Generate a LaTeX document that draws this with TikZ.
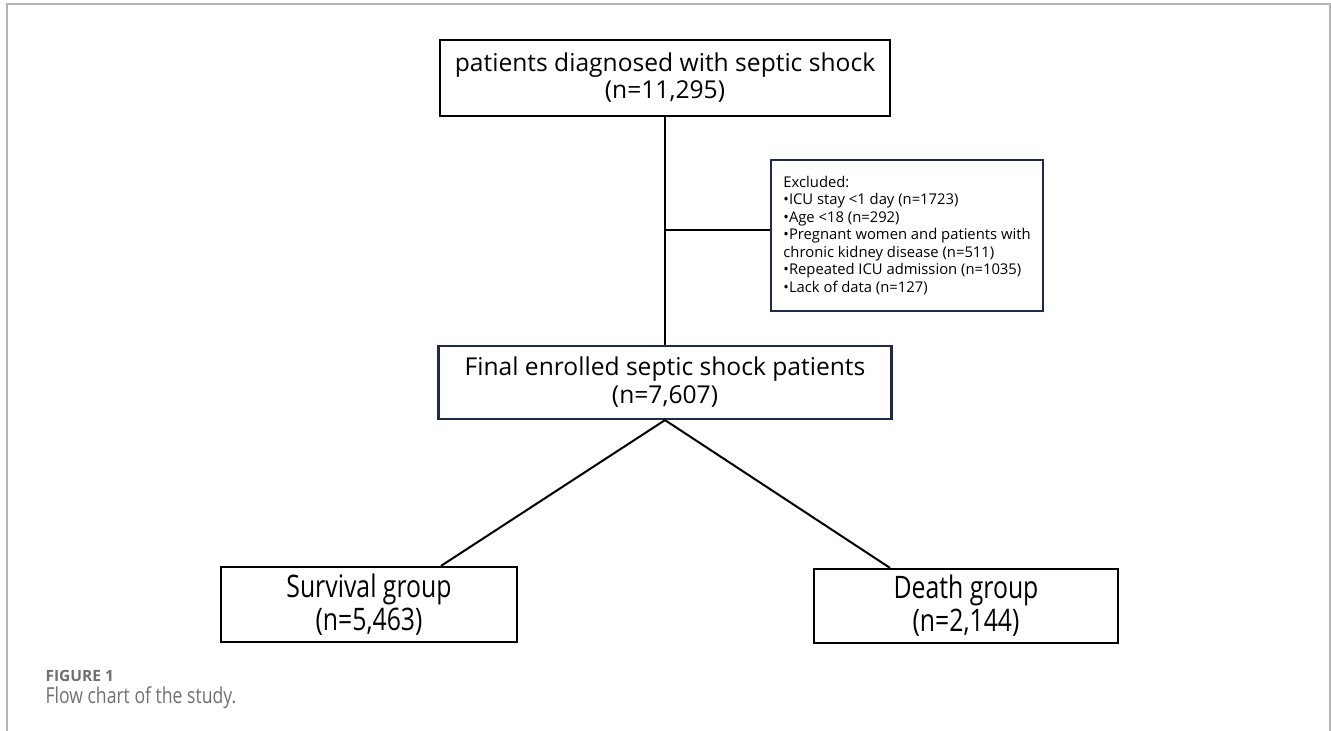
\documentclass[tikz,border=0pt]{standalone}
\usepackage{fontspec}
\setmainfont{Open Sans}
\newfontfamily\narrowfont[FakeStretch=0.8]{Open Sans}
\usepackage{tikz}
\usepackage{xcolor}
\definecolor{boxnavy}{HTML}{1F2A48}
\definecolor{framegray}{HTML}{B4B4B4}
\definecolor{capgray}{HTML}{707070}

\begin{document}
\begin{tikzpicture}[x=1pt,y=-1pt,
  box/.style={draw=black,line width=2.2pt,align=center,inner sep=0pt},
  navybox/.style={box,draw=boxnavy},
  conn/.style={line width=2pt,black}]
  \useasboundingbox (0,0) rectangle (1331,731);
  \draw[framegray,line width=1.5pt] (7,731) -- (7,4) -- (1330,4) -- (1330,731);
  \node[box,minimum width=450pt,minimum height=76pt,font=\fontsize{24.6}{27}\selectfont] (top) at (665,78)
    {patients diagnosed with septic shock\\(n=11,295)};
  \node[navybox,minimum width=453pt,minimum height=73pt,font=\fontsize{24.6}{28}\selectfont] (final) at (665,382.5)
    {Final enrolled septic shock patients\\(n=7,607)};
  \node[navybox,align=left,minimum width=272pt,minimum height=151pt,font=\fontsize{14.8}{17.5}\selectfont] (excl) at (907,235.5)
    {Excluded:\\
     •ICU stay <1 day (n=1723)\\
     •Age <18 (n=292)\\
     •Pregnant women and patients with\\
     chronic kidney disease (n=511)\\
     •Repeated ICU admission (n=1035)\\
     •Lack of data (n=127)};
  \node[box,minimum width=296pt,minimum height=75pt,font=\narrowfont\fontsize{31}{33}\selectfont] (surv) at (369,604.5)
    {Survival group\\(n=5,463)};
  \node[box,minimum width=304pt,minimum height=74pt,font=\narrowfont\fontsize{31}{33}\selectfont] (death) at (966,606)
    {Death group\\(n=2,144)};
  \coordinate (split) at (665,230);
  \draw[conn] (top.south) -- (final.north);
  \draw[conn] (split) -- (split -| excl.west);
  \draw[conn] (final.south) -- ([xshift=72pt]surv.north);
  \draw[conn] (final.south) -- ([xshift=-76pt]death.north);
  \node[anchor=base west,text=capgray,font=\bfseries\fontsize{15.5}{18}\selectfont] (figlabel) at (42,681) {FIGURE 1};
  \node[anchor=base west,text=capgray,font=\narrowfont\fontsize{22}{26}\selectfont] (figcaption) at (42,703) {Flow chart of the study.};
\end{tikzpicture}
\end{document}
